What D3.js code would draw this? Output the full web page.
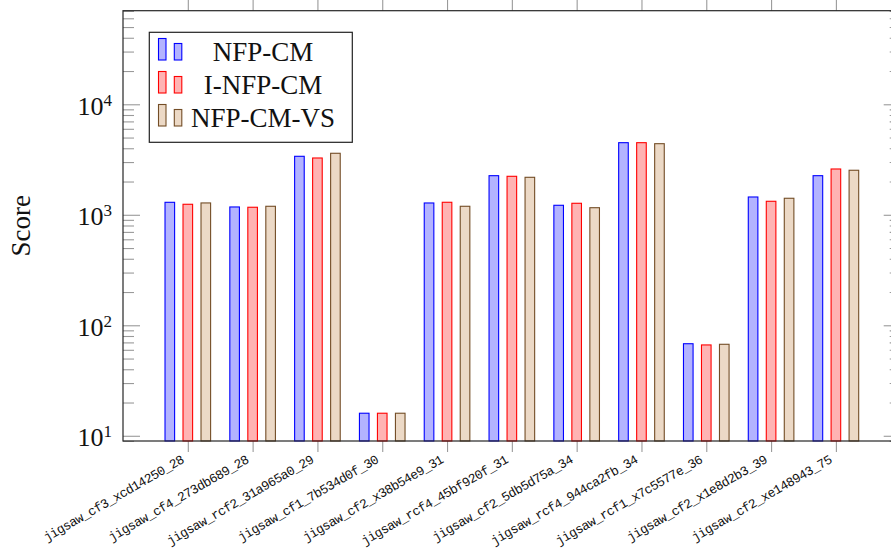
<!DOCTYPE html>
<html>
<head>
<meta charset="utf-8">
<script src="https://cdn.jsdelivr.net/npm/d3@7"></script>
<style>
  body { margin: 0; background: #fff; }
  svg { display: block; }
</style>
</head>
<body>
<svg id="chart" width="891" height="550"></svg>
<script>
// data
const categories = [
    "jigsaw_cf3_xcd14250_28", "jigsaw_cf4_273db689_28", "jigsaw_rcf2_31a965a0_29",
    "jigsaw_cf1_7b534d0f_30", "jigsaw_cf2_x38b54e9_31", "jigsaw_rcf4_45bf920f_31",
    "jigsaw_cf2_5db5d75a_34", "jigsaw_rcf4_944ca2fb_34", "jigsaw_rcf1_x7c5577e_36",
    "jigsaw_cf2_x1e8d2b3_39", "jigsaw_cf2_xe148943_75"
];
const seriesNames = ["NFP-CM", "I-NFP-CM", "NFP-CM-VS"];
const nfpCM   = [1297, 1177, 3383, 16, 1279, 2259, 1219, 4493, 68.1, 1449, 2259];
const inffpCM = [1245, 1170, 3266, 16, 1298, 2230, 1271, 4493, 66.4, 1325, 2597];
const nfpCMVS = [1280, 1194, 3603, 16, 1194, 2184, 1159, 4400, 67.3, 1411, 2529];
const majorTicks = [10, 100, 1000, 10000];
const yLimits = [8.97, 70300];

const strokes = ["#0000ff", "#ff0000", "#734d26"];
const fills = ["#b3b3ff", "#ffb3b3", "#ecd9c6"];

const svg = d3.select("#chart");
const plotLeft = 123, plotRight = 900.7, plotTop = 10.7, plotBottom = 441;

const x = d3.scaleLinear().domain([-1, categories.length]).range([plotLeft, plotRight]);
const y = d3.scaleLog().domain(yLimits).range([plotBottom, plotTop]);

// minor ticks 2..9 per decade
let minorTicks = [];
for (let e = 0; e <= 4; e++) {
    for (let m = 2; m <= 9; m++) {
        let v = m * Math.pow(10, e);
        if (v >= yLimits[0] && v <= yLimits[1]) minorTicks.push(v);
    }
}

const tickColor = "#9a9a9a";

// y ticks, left and right, pointing inward
function yTicks(values, len) {
    svg.append("g")
        .attr("transform", `translate(${plotLeft},0)`)
        .call(d3.axisRight(y).tickValues(values).tickSize(len).tickFormat(""))
        .call(g => g.select(".domain").remove())
        .selectAll("line").attr("stroke", tickColor).attr("stroke-width", 1.1);
    svg.append("g")
        .attr("transform", `translate(${plotRight},0)`)
        .call(d3.axisLeft(y).tickValues(values).tickSize(len).tickFormat(""))
        .call(g => g.select(".domain").remove())
        .selectAll("line").attr("stroke", tickColor).attr("stroke-width", 1.1);
}
yTicks(minorTicks, 11);
yTicks(majorTicks, 17);

// x ticks top and bottom, outward
const idx = d3.range(categories.length);
svg.append("g")
    .attr("transform", `translate(0,${plotBottom})`)
    .call(d3.axisBottom(x).tickValues(idx).tickSize(11).tickFormat(""))
    .call(g => g.select(".domain").remove())
    .selectAll("line").attr("stroke", tickColor).attr("stroke-width", 1.1);
svg.append("g")
    .attr("transform", `translate(0,${plotTop})`)
    .call(d3.axisTop(x).tickValues(idx).tickSize(11).tickFormat(""))
    .call(g => g.select(".domain").remove())
    .selectAll("line").attr("stroke", tickColor).attr("stroke-width", 1.1);

// bars
const series = [nfpCM, inffpCM, nfpCMVS];
const offset = 18, barW = 9.6;
series.forEach((vals, s) => {
    svg.append("g")
        .selectAll("rect")
        .data(vals)
        .enter()
        .append("rect")
        .attr("x", (d, i) => x(i) + (s - 1) * offset - barW / 2)
        .attr("y", d => y(d))
        .attr("width", barW)
        .attr("height", d => plotBottom - y(d))
        .attr("fill", fills[s])
        .attr("stroke", strokes[s])
        .attr("stroke-width", 1.1);
});

// axis frame
svg.append("rect")
    .attr("x", plotLeft).attr("y", plotTop)
    .attr("width", plotRight - plotLeft).attr("height", plotBottom - plotTop)
    .attr("fill", "none")
    .attr("stroke", "#262626")
    .attr("stroke-width", 1.2);

// y tick labels 10^k
const serif = "'Liberation Serif', 'DejaVu Serif', serif";
majorTicks.forEach(v => {
    let t = svg.append("text")
        .attr("x", plotLeft - 11)
        .attr("y", y(v) + 10.5)
        .attr("text-anchor", "end")
        .attr("font-family", serif)
        .attr("font-size", 26)
        .attr("fill", "#111");
    t.append("tspan").text("10");
    t.append("tspan")
        .attr("dy", -9)
        .attr("font-size", 17)
        .text(Math.round(Math.log10(v)));
});

// y axis title
svg.append("text")
    .attr("transform", `translate(30,${(plotTop + plotBottom) / 2}) rotate(-90)`)
    .attr("text-anchor", "middle")
    .attr("font-family", serif)
    .attr("font-size", 27)
    .attr("fill", "#111")
    .text("Score");

// x tick labels rotated
svg.append("g")
    .selectAll("text")
    .data(categories)
    .enter()
    .append("text")
    .attr("transform", (d, i) => `translate(${x(i) - 3},${plotBottom + 21}) rotate(-30)`)
    .attr("text-anchor", "end")
    .attr("font-family", "'Liberation Mono', 'DejaVu Sans Mono', monospace")
    .attr("font-size", 13)
    .attr("letter-spacing", -0.55)
    .attr("fill", "#111")
    .text(d => d);

// legend
const legend = svg.append("g");
legend.append("rect")
    .attr("x", 149.3).attr("y", 32.3)
    .attr("width", 203).attr("height", 110)
    .attr("fill", "#fff")
    .attr("stroke", "#222")
    .attr("stroke-width", 1.2);

seriesNames.forEach((name, s) => {
    let base = 60 + s * 33;
    legend.append("rect")
        .attr("x", 158.5).attr("y", base - 21.5)
        .attr("width", 7.5).attr("height", 21.5)
        .attr("fill", fills[s]).attr("stroke", strokes[s]).attr("stroke-width", 1.1);
    legend.append("rect")
        .attr("x", 174.3).attr("y", base - 16.5)
        .attr("width", 7.5).attr("height", 16.5)
        .attr("fill", fills[s]).attr("stroke", strokes[s]).attr("stroke-width", 1.1);
    legend.append("text")
        .attr("x", 263)
        .attr("y", base + 1)
        .attr("text-anchor", "middle")
        .attr("font-family", serif)
        .attr("font-size", 27)
        .attr("fill", "#111")
        .text(name);
});
</script>
</body>
</html>
